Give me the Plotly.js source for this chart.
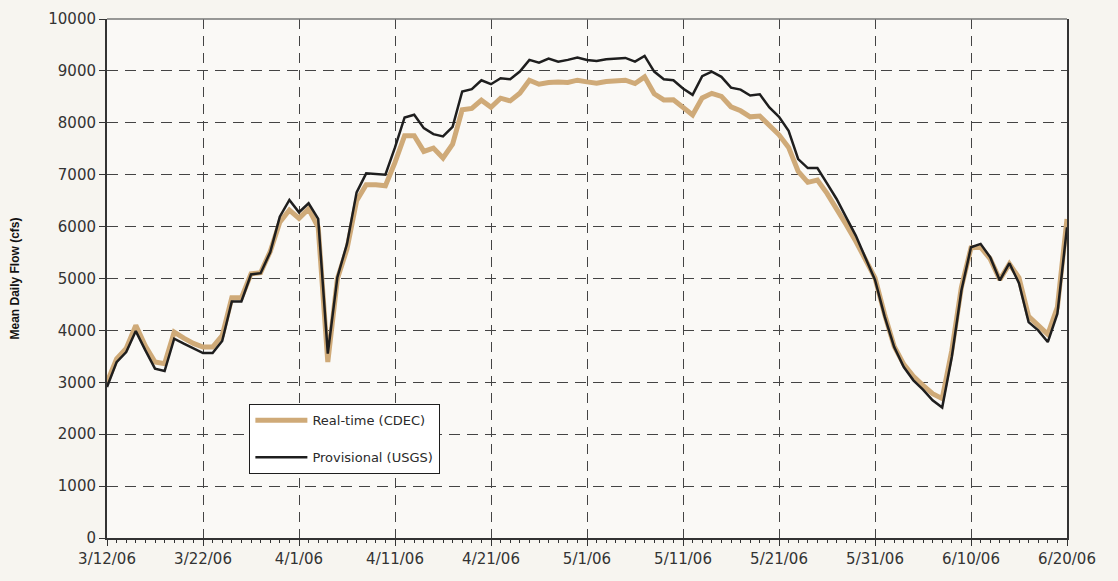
<!DOCTYPE html>
<html>
<head>
<meta charset="utf-8">
<script src="https://cdn.plot.ly/plotly-3.0.1.min.js"></script>
<style>
  html, body { margin: 0; padding: 0; background: #f7f5f0; }
  #chart { width: 1118px; height: 581px; }
</style>
</head>
<body>
<div id="chart"></div>
<script>
// Daily dates 3/12/06 .. 6/20/06
const startDate = '2006-03-12';
const dayCount = 101;

// Mean daily flow (cfs)
const realtimeCDEC = [
  3000, 3450, 3650, 4096, 3700, 3390, 3360, 3968, 3850, 3750,
  3680, 3680, 3900, 4628, 4628, 5090, 5110, 5520, 6083, 6320,
  6160, 6340, 5987, 3391, 4994, 5571, 6500, 6808, 6808, 6788,
  7237, 7750, 7750, 7449, 7513, 7321, 7590, 8250, 8276, 8436,
  8300, 8474, 8423, 8571, 8821, 8744, 8776, 8788, 8776, 8821,
  8788, 8763, 8795, 8808, 8821, 8756, 8885, 8560, 8440, 8445,
  8295, 8150, 8480, 8568, 8510, 8308, 8231, 8115, 8130, 7942,
  7769, 7526, 7064, 6853, 6897, 6641, 6359, 6038, 5718, 5378,
  5013, 4308, 3692, 3346, 3115, 2942, 2782, 2686, 3615, 4833,
  5590, 5603, 5378, 4975, 5282, 5013, 4269, 4096, 3923, 4449,
  6148
];

const provisionalUSGS = [
  2910, 3390, 3583, 3987, 3615, 3263, 3218, 3840, 3744, 3647,
  3564, 3564, 3795, 4558, 4558, 5077, 5103, 5506, 6192, 6513,
  6276, 6449, 6147, 3551, 5026, 5667, 6660, 7026, 7013, 7000,
  7526, 8103, 8154, 7897, 7782, 7737, 7923, 8603, 8647, 8820,
  8744, 8859, 8840, 8987, 9212, 9160, 9237, 9179, 9212, 9256,
  9212, 9192, 9225, 9244, 9250, 9179, 9288, 8987, 8840, 8821,
  8660, 8538, 8900, 8985, 8885, 8677, 8640, 8525, 8550, 8295,
  8115, 7846, 7301, 7128, 7128, 6833, 6532, 6179, 5827, 5400,
  4975, 4269, 3679, 3295, 3038, 2859, 2654, 2513, 3487, 4769,
  5603, 5667, 5410, 4962, 5295, 4910, 4160, 4000, 3776, 4321,
  5987
];

const tickDates = ['2006-03-12','2006-03-22','2006-04-01','2006-04-11','2006-04-21',
                   '2006-05-01','2006-05-11','2006-05-21','2006-05-31','2006-06-10','2006-06-20'];
const tickLabels = ['3/12/06','3/22/06','4/1/06','4/11/06','4/21/06',
                    '5/1/06','5/11/06','5/21/06','5/31/06','6/10/06','6/20/06'];

const dates = [];
{
  const d0 = new Date(startDate + 'T00:00:00Z');
  for (let i = 0; i < dayCount; i++) {
    const d = new Date(d0.getTime() + i * 86400000);
    dates.push(d.toISOString().slice(0, 10));
  }
}

const traces = [
  {
    x: dates, y: realtimeCDEC, type: 'scatter', mode: 'lines',
    name: 'Real-time (CDEC)', legendgroup: 'a',
    line: { color: '#cfaa78', width: 5 }
  },
  {
    x: dates, y: provisionalUSGS, type: 'scatter', mode: 'lines',
    name: 'Provisional (USGS)', legendgroup: 'b',
    line: { color: '#1e1e1e', width: 2.5 }
  }
];

const layout = {
  width: 1118, height: 581,
  margin: { l: 107, r: 51, t: 19, b: 43 },
  paper_bgcolor: '#f7f5f0',
  plot_bgcolor: '#faf9f6',
  showlegend: true,
  legend: {
    x: 0.148, y: 0.258, xanchor: 'left', yanchor: 'top',
    bgcolor: '#ffffff', bordercolor: '#1e1e1e', borderwidth: 1.3,
    font: { family: 'DejaVu Sans', size: 13, color: '#2a2a2a' },
    traceorder: 'grouped', tracegroupgap: 17, itemwidth: 52
  },
  xaxis: {
    type: 'date',
    range: ['2006-03-12', '2006-06-20'],
    tickvals: tickDates, ticktext: tickLabels,
    ticks: 'outside', ticklen: 6, tickwidth: 1, tickcolor: '#333',
    minor: { dtick: 86400000, ticks: 'outside', ticklen: 3, tickcolor: '#333', showgrid: false },
    showgrid: true, gridcolor: '#444', gridwidth: 1, griddash: '10px,7px',
    showline: true, linecolor: '#333', linewidth: 2,
    zeroline: false,
    tickfont: { family: 'DejaVu Sans', size: 15, color: '#333' },
    fixedrange: true
  },
  yaxis: {
    range: [0, 10000],
    dtick: 1000,
    tickformat: 'd',
    ticks: 'outside', ticklen: 6, tickwidth: 1, tickcolor: '#333',
    showgrid: true, gridcolor: '#444', gridwidth: 1, griddash: '11px,7px',
    showline: true, linecolor: '#333', linewidth: 2, mirror: true,
    zeroline: false,
    tickfont: { family: 'DejaVu Sans', size: 15, color: '#333' },
    title: { text: 'Mean Daily Flow (cfs)', standoff: 26,
             font: { family: 'Liberation Sans', size: 12, color: '#111', weight: 'bold' } },
    fixedrange: true
  },
  shapes: [
    { type: 'line', xref: 'paper', yref: 'paper', x0: 0, x1: 1, y0: 1, y1: 1,
      line: { color: '#777', width: 1.5 } }
  ]
};

Plotly.newPlot('chart', traces, layout, { displayModeBar: false, staticPlot: true });
</script>
</body>
</html>
